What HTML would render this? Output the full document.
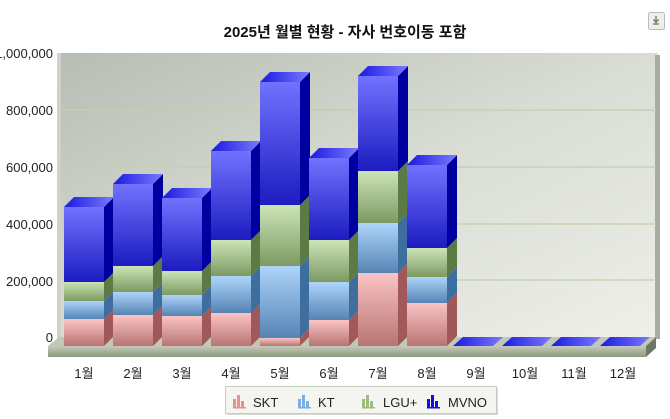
<!DOCTYPE html>
<html><head><meta charset="utf-8"><style>
body{margin:0;background:#fff;width:670px;height:419px;overflow:hidden}
svg{display:block;font-family:"Liberation Sans","Noto Sans CJK KR",sans-serif}
</style></head><body>
<svg id="s" width="670" height="419" viewBox="0 0 670 419">
<defs>
<linearGradient id="bg" x1="0" y1="0" x2="1" y2="1"><stop offset="0" stop-color="#b7bdb3"/><stop offset="0.5" stop-color="#d9ddd4"/><stop offset="1" stop-color="#eef0e9"/></linearGradient>
<linearGradient id="fl" x1="0" y1="0" x2="0" y2="1"><stop offset="0" stop-color="#c4cab8"/><stop offset="1" stop-color="#8e9880"/></linearGradient>
<linearGradient id="g0" x1="0" y1="0" x2="0" y2="1"><stop offset="0" stop-color="#fbc4c4"/><stop offset="1" stop-color="#b87474"/></linearGradient>
<linearGradient id="g1" x1="0" y1="0" x2="0" y2="1"><stop offset="0" stop-color="#aed4fa"/><stop offset="1" stop-color="#5584b4"/></linearGradient>
<linearGradient id="g2" x1="0" y1="0" x2="0" y2="1"><stop offset="0" stop-color="#cce4b6"/><stop offset="1" stop-color="#7c9a64"/></linearGradient>
<linearGradient id="g3" x1="0" y1="0" x2="0" y2="1"><stop offset="0" stop-color="#7272ff"/><stop offset="1" stop-color="#1c1cc0"/></linearGradient>
<linearGradient id="tp" x1="0" y1="0" x2="1" y2="0"><stop offset="0" stop-color="#1a1ae0"/><stop offset="1" stop-color="#7a7aff"/></linearGradient>
</defs>
<text x="345" y="37" text-anchor="middle" font-size="15" font-weight="bold" fill="#111">2025년 월별 현황 - 자사 번호이동 포함</text>
<rect x="648.5" y="12.5" width="16" height="17" rx="2" fill="#eee" stroke="#bbb"/>
<path d="M653 24h6M656 16v6M653.5 19.5l2.5 3l2.5-3" stroke="#7a8a60" stroke-width="1.5" fill="none"/>
<rect x="59" y="53" width="599" height="286" fill="url(#bg)"/>
<rect x="655" y="55" width="5" height="284" fill="#a7ada0"/>
<rect x="57" y="53" width="4" height="290" fill="#cfd2cb"/>
<g stroke="#c4d0ac" stroke-width="1.2">
<line x1="61" y1="110" x2="656" y2="110"/><line x1="61" y1="167" x2="656" y2="167"/><line x1="61" y1="224" x2="656" y2="224"/><line x1="61" y1="280" x2="656" y2="280"/>
</g>
<g font-size="13" fill="#222" text-anchor="end">
<text x="53" y="58">1,000,000</text><text x="53" y="115">800,000</text><text x="53" y="172">600,000</text><text x="53" y="229">400,000</text><text x="53" y="286">200,000</text><text x="53" y="342">0</text>
</g>
<polygon points="48,346 59,337 656,337 646,346" fill="#c2c8b6"/>
<polygon points="48,346 646,346 646,357 48,357" fill="url(#fl)"/>
<polygon points="646,346 656,337 656,348 646,357" fill="#6f7862"/>
<g id="bars"></g>
<g font-size="13" fill="#222" text-anchor="middle" id="lbl"></g>
<rect x="227" y="388" width="271" height="27" fill="#d8dad2"/>
<rect x="225.5" y="386.5" width="271" height="27" fill="#f4f4f0" stroke="#c8cbc0"/>
<g font-size="13" fill="#222">
<g transform="translate(233,395)"><rect x="0" y="4" width="3" height="8" fill="#e89090"/><rect x="4" y="0" width="3" height="12" fill="#e89090"/><rect x="8" y="6" width="3" height="6" fill="#e89090"/><rect x="0" y="12" width="13" height="1.5" fill="#e89090"/></g><text x="253" y="407">SKT</text>
<g transform="translate(298,395)"><rect x="0" y="4" width="3" height="8" fill="#7aaee0"/><rect x="4" y="0" width="3" height="12" fill="#7aaee0"/><rect x="8" y="6" width="3" height="6" fill="#7aaee0"/><rect x="0" y="12" width="13" height="1.5" fill="#7aaee0"/></g><text x="318" y="407">KT</text>
<g transform="translate(362,395)"><rect x="0" y="4" width="3" height="8" fill="#9cbc80"/><rect x="4" y="0" width="3" height="12" fill="#9cbc80"/><rect x="8" y="6" width="3" height="6" fill="#9cbc80"/><rect x="0" y="12" width="13" height="1.5" fill="#9cbc80"/></g><text x="383" y="407">LGU+</text>
<g transform="translate(427,395)"><rect x="0" y="4" width="3" height="8" fill="#1010e0"/><rect x="4" y="0" width="3" height="12" fill="#1010e0"/><rect x="8" y="6" width="3" height="6" fill="#1010e0"/><rect x="0" y="12" width="13" height="1.5" fill="#1010e0"/></g><text x="448" y="407">MVNO</text>
</g>
</svg>
<script>
var tops=[[319,301,282,207],[315,292,266,184],[316,295,271,198],[313,276,240,151],[338,266,205,82],[320,282,240,158],[273,223,171,76],[303,277,248,165]];
var side=["#a05858","#3e6e9e","#5c7a44","#0000a0"];
var h="",B=346,W=40,D=10;
for(var i=0;i<12;i++){var x=64+i*49;
 if(i<8){var prev=B;for(var k=0;k<4;k++){var t=tops[i][k];
  h+='<rect x="'+x+'" y="'+t+'" width="'+W+'" height="'+(prev-t)+'" fill="url(#g'+k+')"/>';
  h+='<polygon points="'+(x+W)+','+t+' '+(x+W+D)+','+(t-D)+' '+(x+W+D)+','+(prev-D)+' '+(x+W)+','+prev+'" fill="'+side[k]+'"/>';
  prev=t;}
  var t=tops[i][3];h+='<polygon points="'+x+','+t+' '+(x+D)+','+(t-D)+' '+(x+W+D)+','+(t-D)+' '+(x+W)+','+t+'" fill="url(#tp)"/>';
 } else {h+='<polygon points="'+(x-3)+',346 '+(x+7)+',337 '+(x+W+7)+',337 '+(x+W-3)+',346" fill="url(#tp)"/>';}
}
document.getElementById("bars").innerHTML=h;
var l="";for(var i=0;i<12;i++){l+='<text x="'+(84+i*49)+'" y="378">'+(i+1)+'월</text>';}
document.getElementById("lbl").innerHTML=l;
</script>
</body></html>
